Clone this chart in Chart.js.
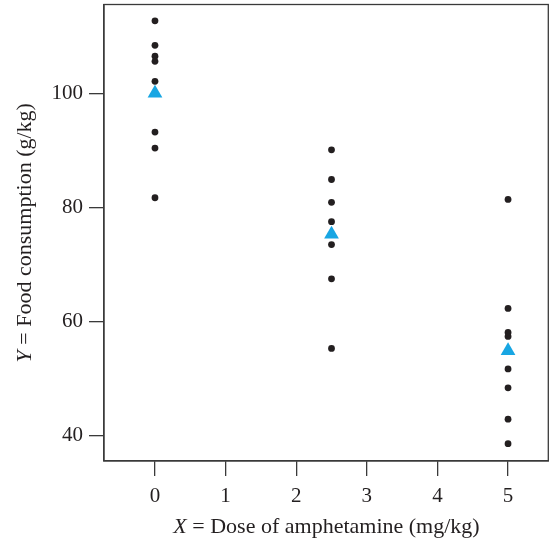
<!DOCTYPE html>
<html>
<head>
<meta charset="utf-8">
<script src="https://cdn.jsdelivr.net/npm/chart.js@4/dist/chart.umd.min.js"></script>
<style>
  html, body { margin: 0; padding: 0; background: #fff; }
  #wrap { width: 549px; height: 541px; }
</style>
</head>
<body>
<div id="wrap"><canvas id="chart" width="549" height="541"></canvas></div>
<script>
// ── data ──
const doses = [0, 2.5, 5];
const dose0 = [112.7, 108.4, 106.5, 105.6, 102.1, 93.2, 90.4, 81.7];
const dose25 = [90.1, 84.9, 80.9, 77.5, 73.5, 67.5, 55.3];
const dose5 = [81.4, 62.3, 58.1, 57.4, 51.7, 48.4, 42.9, 38.6];
const means = [100.0, 75.3, 54.9];
const xTicks = [0, 1, 2, 3, 4, 5];
const yTicks = [40, 60, 80, 100];
const xTitle = ['X', ' = Dose of amphetamine (mg/kg)'];
const yTitle = ['Y', ' = Food consumption (g/kg)'];

const FONT = '"Liberation Serif", "DejaVu Serif", serif';
const INK = '#231f20';
const AXIS = '#3a3a3a';

const groups = [dose0, dose25, dose5];
const obs = [];
groups.forEach((vals, i) => vals.forEach(v => obs.push({ x: doses[i], y: v })));
const meanPts = doses.map((d, i) => ({ x: d, y: means[i] }));

// box round the plot + axis titles with italic first letter
const frame = {
  id: 'frame',
  afterDatasetsDraw(chart) {
    const { ctx, chartArea: a } = chart;
    ctx.save();
    ctx.strokeStyle = AXIS;
    ctx.lineWidth = 1.3;
    ctx.strokeRect(a.left, a.top, a.right - a.left - 0.7, a.bottom - a.top);
    ctx.restore();
  },
  afterDraw(chart) {
    const { ctx, chartArea: a } = chart;
    const drawMixed = (parts, x, y) => {
      ctx.font = 'italic 22px ' + FONT;
      const w0 = ctx.measureText(parts[0]).width;
      ctx.font = '22px ' + FONT;
      const w1 = ctx.measureText(parts[1]).width;
      const sx = x - (w0 + w1) / 2;
      ctx.font = 'italic 22px ' + FONT;
      ctx.fillText(parts[0], sx, y);
      ctx.font = '22px ' + FONT;
      ctx.fillText(parts[1], sx + w0, y);
    };
    ctx.save();
    ctx.fillStyle = INK;
    ctx.textBaseline = 'middle';
    ctx.textAlign = 'left';
    drawMixed(xTitle, (a.left + a.right) / 2, 527);
    ctx.translate(25, (a.top + a.bottom) / 2);
    ctx.rotate(-Math.PI / 2);
    drawMixed(yTitle, 0, 0);
    ctx.restore();
  }
};

new Chart(document.getElementById('chart'), {
  type: 'scatter',
  data: {
    datasets: [
      {
        label: 'Mean',
        data: meanPts,
        pointStyle: 'triangle',
        pointRadius: 8.5,
        pointHoverRadius: 8.5,
        backgroundColor: '#18a6e3',
        borderColor: '#18a6e3',
        borderWidth: 0
      },
      {
        label: 'Rats',
        data: obs,
        pointStyle: 'circle',
        pointRadius: 3.4,
        pointHoverRadius: 3.4,
        backgroundColor: INK,
        borderColor: INK,
        borderWidth: 0
      }
    ]
  },
  options: {
    responsive: false,
    animation: false,
    layout: { autoPadding: false, padding: { top: 4.5, right: 0, left: 0, bottom: 0 } },
    plugins: { legend: { display: false }, tooltip: { enabled: false } },
    scales: {
      x: {
        type: 'linear',
        min: -0.722,
        max: 5.58,
        afterBuildTicks: s => { s.ticks = xTicks.map(v => ({ value: v })); },
        afterFit: s => { s.height = 80; s.paddingLeft = 0; s.paddingRight = 0; },
        grid: { display: true, drawOnChartArea: false, drawTicks: true, tickLength: 15, color: AXIS, lineWidth: 1.3 },
        border: { display: true, color: AXIS, width: 1.3 },
        ticks: { color: INK, font: { family: FONT, size: 21 }, padding: 8, maxRotation: 0 }
      },
      y: {
        type: 'linear',
        min: 35.57,
        max: 115.56,
        afterBuildTicks: s => { s.ticks = yTicks.map(v => ({ value: v })); },
        afterFit: s => { s.width = 104; s.paddingTop = 0; s.paddingBottom = 0; },
        grid: { display: true, drawOnChartArea: false, drawTicks: true, tickLength: 15, color: AXIS, lineWidth: 1.3 },
        border: { display: true, color: AXIS, width: 1.3 },
        ticks: { color: INK, font: { family: FONT, size: 21 }, padding: 6 }
      }
    }
  },
  plugins: [frame]
});
</script>
</body>
</html>
